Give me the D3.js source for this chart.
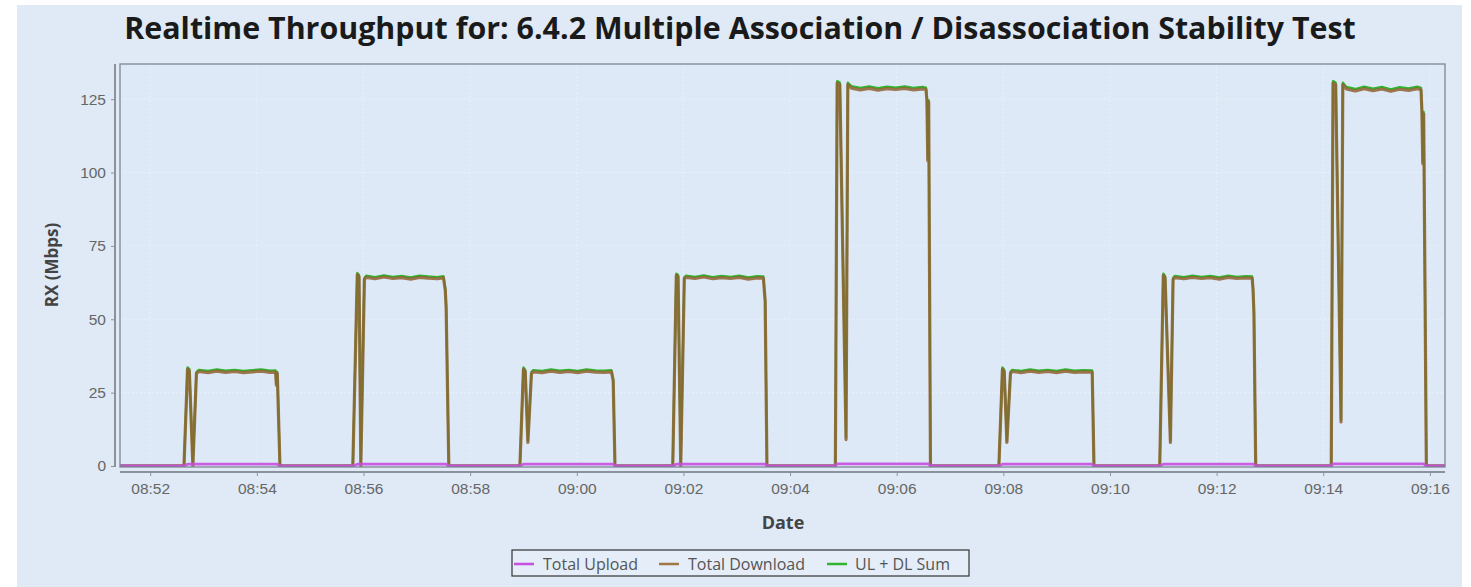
<!DOCTYPE html>
<html><head><meta charset="utf-8">
<script src="https://cdn.jsdelivr.net/npm/d3@7"></script>
<style>
html,body{margin:0;padding:0;background:#ffffff;}
svg{display:block;font-family:"Open Sans","Noto Sans",sans-serif;}
</style></head>
<body>
<svg id="chart" width="1471" height="587"></svg>
<script>
const chartTitle = "Realtime Throughput for: 6.4.2 Multiple Association / Disassociation Stability Test";
const seriesNames = ["Total Upload", "Total Download", "UL + DL Sum"];
const seriesColors = ["#c84fe0", "#8f6230", "#2fb52f"];
const yTicks = [0, 25, 50, 75, 100, 125];
const xTickLabels = ["08:52","08:54","08:56","08:58","09:00","09:02","09:04","09:06","09:08","09:10","09:12","09:14","09:16"];

const times = [
"08:51:26",
"08:52:38","08:52:42","08:52:44","08:52:48","08:52:52","08:52:55","08:53:05","08:53:15","08:53:25","08:53:35","08:53:45","08:53:55","08:54:05","08:54:15","08:54:21","08:54:22","08:54:23","08:54:26",
"08:55:48","08:55:53","08:55:55","08:55:57","08:56:01","08:56:03","08:56:13","08:56:23","08:56:33","08:56:43","08:56:53","08:57:03","08:57:13","08:57:23","08:57:30","08:57:32","08:57:33","08:57:36",
"08:58:56","08:59:00","08:59:02","08:59:05","08:59:09","08:59:11","08:59:21","08:59:31","08:59:41","08:59:51","09:00:01","09:00:11","09:00:21","09:00:31","09:00:39","09:00:41","09:00:43",
"09:01:48","09:01:52","09:01:54","09:01:57","09:02:01","09:02:03","09:02:13","09:02:23","09:02:33","09:02:43","09:02:53","09:03:03","09:03:13","09:03:23","09:03:30","09:03:31","09:03:32","09:03:34",
"09:04:51","09:04:53","09:04:56","09:05:03","09:05:05","09:05:09","09:05:19","09:05:29","09:05:39","09:05:49","09:05:59","09:06:09","09:06:19","09:06:29","09:06:33","09:06:34","09:06:35","09:06:36","09:06:38",
"09:07:55","09:07:59","09:08:01","09:08:04","09:08:08","09:08:10","09:08:20","09:08:30","09:08:40","09:08:50","09:09:00","09:09:10","09:09:20","09:09:30","09:09:40","09:09:42",
"09:10:56","09:11:00","09:11:02","09:11:08","09:11:11","09:11:13","09:11:23","09:11:33","09:11:43","09:11:53","09:12:03","09:12:13","09:12:23","09:12:33","09:12:40","09:12:41","09:12:42","09:12:44",
"09:14:09","09:14:11","09:14:14","09:14:20","09:14:22","09:14:26","09:14:36","09:14:46","09:14:56","09:15:06","09:15:16","09:15:26","09:15:36","09:15:46","09:15:50","09:15:51","09:15:52","09:15:53","09:15:56",
"09:16:17"
];

const downloadMbps = [
0,
0,33,32.5,0,31.5,32.2,31.8,32.3,31.9,32.2,31.8,32.1,32.3,31.9,32.0,27.5,31.5,0,
0,65.2,64.5,0,63.5,64.3,63.8,64.4,63.9,64.2,63.7,64.3,64.0,63.8,64.1,60,54,0,
0,33,32.2,8,31.5,32.1,31.8,32.3,31.9,32.2,31.8,32.3,32.0,31.9,32.1,29,0,
0,65,64.5,0,63.8,64.3,63.9,64.4,63.8,64.2,63.9,64.3,63.7,64.1,64.0,60,56,0,
0,130.5,130,9,130,128.8,128.2,128.7,128.1,128.6,128.3,128.7,128.2,128.5,128.3,124.5,104,124,0,
0,33,32.2,8,31.5,32.2,31.8,32.3,31.9,32.2,31.8,32.3,31.9,32.1,32.0,0,
0,65,64.2,8,63.5,64.2,63.8,64.3,63.9,64.2,63.7,64.3,63.9,64.1,64.0,60,52,0,
0,130.5,130,15,130,128.5,127.8,128.6,127.9,128.5,127.7,128.4,128.0,128.6,128.2,121,103,120,0,
0
];

const uploadMbps = [
0,
0,0.6,0.6,0.6,0.6,0.6,0.6,0.6,0.6,0.6,0.6,0.6,0.6,0.6,0.6,0.6,0.6,0,
0,0.6,0.6,0.6,0.6,0.6,0.6,0.6,0.6,0.6,0.6,0.6,0.6,0.6,0.6,0.6,0.6,0,
0,0.6,0.6,0.6,0.6,0.6,0.6,0.6,0.6,0.6,0.6,0.6,0.6,0.6,0.6,0.6,0,
0,0.6,0.6,0.6,0.6,0.6,0.6,0.6,0.6,0.6,0.6,0.6,0.6,0.6,0.6,0.6,0.6,0,
0,0.7,0.7,0.7,0.7,0.7,0.7,0.7,0.7,0.7,0.7,0.7,0.7,0.7,0.7,0.7,0.7,0.7,0,
0,0.6,0.6,0.6,0.6,0.6,0.6,0.6,0.6,0.6,0.6,0.6,0.6,0.6,0.6,0,
0,0.6,0.6,0.6,0.6,0.6,0.6,0.6,0.6,0.6,0.6,0.6,0.6,0.6,0.6,0.6,0.6,0,
0,0.7,0.7,0.7,0.7,0.7,0.7,0.7,0.7,0.7,0.7,0.7,0.7,0.7,0.7,0.7,0.7,0.7,0,
0
];

const sumMbps = [
0,
0,33.6,33.1,0.6,32.1,32.8,32.4,32.9,32.5,32.8,32.4,32.7,32.9,32.5,32.6,28.1,32.1,0,
0,65.8,65.1,0.6,64.1,64.9,64.4,65.0,64.5,64.8,64.3,64.9,64.6,64.4,64.7,60.6,54.6,0,
0,33.6,32.8,8.6,32.1,32.7,32.4,32.9,32.5,32.8,32.4,32.9,32.6,32.5,32.7,29.6,0,
0,65.6,65.1,0.6,64.4,64.9,64.5,65.0,64.4,64.8,64.5,64.9,64.3,64.7,64.6,60.6,56.6,0,
0,131.2,130.7,9.7,130.7,129.5,128.9,129.4,128.8,129.3,129.0,129.4,128.9,129.2,129.0,125.2,104.7,124.7,0,
0,33.6,32.8,8.6,32.1,32.8,32.4,32.9,32.5,32.8,32.4,32.9,32.5,32.7,32.6,0,
0,65.6,64.8,8.6,64.1,64.8,64.4,64.9,64.5,64.8,64.3,64.9,64.5,64.7,64.6,60.6,52.6,0,
0,131.2,130.7,15.7,130.7,129.2,128.5,129.3,128.6,129.2,128.4,129.1,128.7,129.3,128.9,121.7,103.7,120.7,0,
0
];

const parseT = d3.timeParse("%Y-%m-%d %H:%M:%S");
const day = "2023-01-01 ";
const tDates = times.map(t => parseT(day + t));

const svg = d3.select("#chart");
const W = 1471, H = 587;
const plot = {left: 120, right: 1445, top: 64, bottom: 467};

const x = d3.scaleTime()
  .domain([parseT(day + "08:51:26"), parseT(day + "09:16:17")])
  .range([plot.left, plot.right]);
const y = d3.scaleLinear().domain([-0.35, 137]).range([plot.bottom, plot.top]);

// background
svg.append("rect").attr("width", W).attr("height", H).attr("fill", "#ffffff");
svg.append("rect").attr("x", 17).attr("y", 5).attr("width", 1445).attr("height", H - 5)
  .attr("fill", "#dfeaf6");
svg.append("rect").attr("x", plot.left).attr("y", plot.top)
  .attr("width", plot.right - plot.left).attr("height", plot.bottom - plot.top)
  .attr("fill", "#dde9f6");

// gridlines
const xTickDates = xTickLabels.map(s => parseT(day + s + ":00"));
const grid = svg.append("g").attr("opacity", 0.55);
grid.selectAll("line.gx").data(xTickDates).join("line")
  .attr("x1", d => x(d)).attr("x2", d => x(d))
  .attr("y1", plot.top).attr("y2", plot.bottom)
  .attr("stroke", "#f4f8fc").attr("stroke-width", 1).attr("stroke-dasharray", "2,2");
grid.selectAll("line.gy").data(yTicks).join("line")
  .attr("x1", plot.left).attr("x2", plot.right)
  .attr("y1", d => y(d)).attr("y2", d => y(d))
  .attr("stroke", "#f4f8fc").attr("stroke-width", 1).attr("stroke-dasharray", "2,2");

// series lines
svg.append("clipPath").attr("id", "clip").append("rect")
  .attr("x", plot.left).attr("y", plot.top - 2)
  .attr("width", plot.right - plot.left).attr("height", plot.bottom - plot.top + 2);
const lineGen = vals => d3.line().x((d, i) => x(tDates[i])).y(d => y(d))(vals);
const lines = svg.append("g").attr("clip-path", "url(#clip)");
lines.append("path").attr("d", lineGen(sumMbps)).attr("fill", "none")
  .attr("stroke", seriesColors[2]).attr("stroke-width", 2.2).attr("stroke-linejoin", "round");
lines.append("path").attr("d", lineGen(downloadMbps)).attr("fill", "none")
  .attr("stroke", seriesColors[1]).attr("stroke-width", 3.2).attr("stroke-opacity", 0.85).attr("stroke-linejoin", "round");
lines.append("path").attr("d", lineGen(uploadMbps)).attr("fill", "none")
  .attr("stroke", seriesColors[0]).attr("stroke-width", 2.8).attr("stroke-opacity", 0.9).attr("stroke-linejoin", "round");

// plot frame
svg.append("rect").attr("x", plot.left).attr("y", plot.top)
  .attr("width", plot.right - plot.left).attr("height", plot.bottom - plot.top)
  .attr("fill", "none").attr("stroke", "#7d8894").attr("stroke-width", 1.3);

// axes
const axisColor = "#8a939c";
const yAxis = svg.append("g").attr("transform", `translate(${plot.left - 5},0)`)
  .call(d3.axisLeft(y).tickValues(yTicks).tickSize(4).tickPadding(5).tickFormat(d3.format("d")));
yAxis.select(".domain").attr("stroke", axisColor).attr("stroke-width", 2)
  .attr("d", `M0,${plot.top}V${plot.bottom}`);
yAxis.selectAll(".tick line").attr("stroke", axisColor);
yAxis.selectAll("text").attr("fill", "#666").attr("font-size", 15.5);

const xAxis = svg.append("g").attr("transform", `translate(0,${plot.bottom + 5})`)
  .call(d3.axisBottom(x).tickValues(xTickDates).tickSize(4).tickPadding(7)
    .tickFormat((d, i) => xTickLabels[i]));
xAxis.select(".domain").attr("stroke", axisColor).attr("stroke-width", 2)
  .attr("d", `M${plot.left},0H${plot.right}`);
xAxis.selectAll(".tick line").attr("stroke", axisColor);
xAxis.selectAll("text").attr("fill", "#666").attr("font-size", 15.5);

// title
svg.append("text").attr("x", 740).attr("y", 39).attr("text-anchor", "middle")
  .attr("font-size", 30.4).attr("font-weight", "bold").attr("fill", "#1a1a1a")
  .text(chartTitle);

// axis labels
svg.append("text").attr("transform", "translate(58,265) rotate(-90)")
  .attr("text-anchor", "middle").attr("font-size", 17).attr("font-weight", "bold")
  .attr("fill", "#444").text("RX (Mbps)");
svg.append("text").attr("x", 783).attr("y", 529).attr("text-anchor", "middle")
  .attr("font-size", 18).attr("font-weight", "bold").attr("fill", "#444").text("Date");

// legend
const lg = svg.append("g");
lg.append("rect").attr("x", 512).attr("y", 550).attr("width", 457).attr("height", 26)
  .attr("fill", "#e4edf8").attr("stroke", "#333").attr("stroke-width", 1.2);
const legendItems = [
  {name: seriesNames[0], color: seriesColors[0], lx: 514, tx: 543},
  {name: seriesNames[1], color: "#a07a45", lx: 659, tx: 688},
  {name: seriesNames[2], color: seriesColors[2], lx: 827, tx: 855}
];
legendItems.forEach(it => {
  lg.append("line").attr("x1", it.lx).attr("x2", it.lx + 20).attr("y1", 564).attr("y2", 564)
    .attr("stroke", it.color).attr("stroke-width", 2.5);
  lg.append("text").attr("x", it.tx).attr("y", 569.5).attr("font-size", 16)
    .attr("fill", "#555").text(it.name);
});
</script>
</body></html>
